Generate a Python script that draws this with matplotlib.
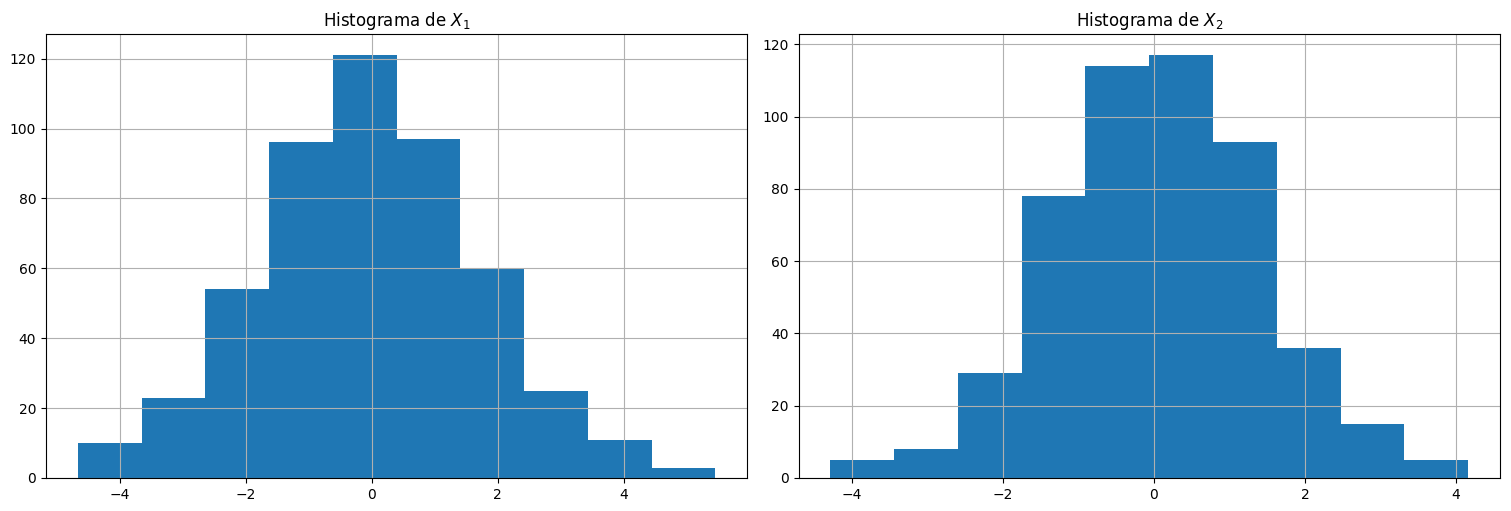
import numpy as np
import matplotlib
matplotlib.use('Agg')
import matplotlib.pyplot as plt

# bin range and counts
x1_range = (-4.67, 5.46)
x1_counts = [10, 23, 54, 96, 121, 97, 60, 25, 11, 3]
x2_range = (-4.28, 4.16)
x2_counts = [5, 8, 29, 78, 114, 117, 93, 36, 15, 5]

fig, axes = plt.subplots(1, 2, figsize=(15.11, 5.11), dpi=100)

for ax, rng, counts, title in [
    (axes[0], x1_range, x1_counts, r'Histograma de $X_1$'),
    (axes[1], x2_range, x2_counts, r'Histograma de $X_2$'),
]:
    edges = np.linspace(rng[0], rng[1], len(counts) + 1)
    ax.bar(edges[:-1], counts, width=np.diff(edges), align='edge', color='#1f77b4')
    ax.grid(True)
    ax.set_title(title)

plt.subplots_adjust(left=0.0304, right=0.9927, top=0.9335, bottom=0.0646, wspace=0.073)
plt.savefig('out.png')
